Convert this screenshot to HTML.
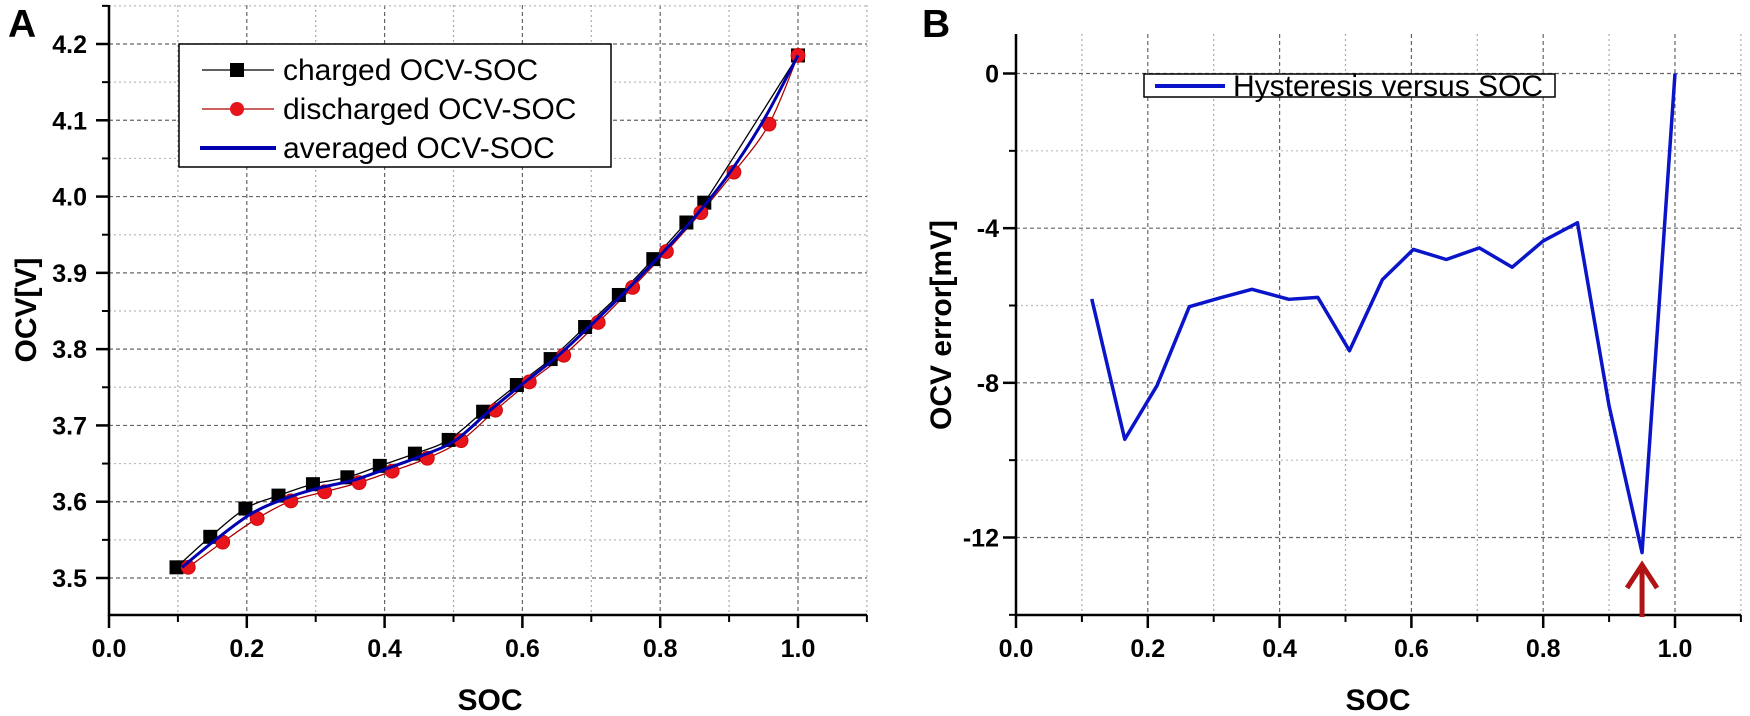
<!DOCTYPE html>
<html><head><meta charset="utf-8">
<style>
html,body{margin:0;padding:0;background:#fff;}
svg{display:block;font-family:"Liberation Sans",Arial,sans-serif;}
</style></head>
<body>
<svg id="fig" width="1750" height="716" viewBox="0 0 1750 716">
<g id="panelA"></g>
<g id="panelB"></g>
</svg>
<script>
// ---- Panel A data ----
const chargedSOC = [0.098,0.147,0.198,0.246,0.296,0.346,0.393,0.444,0.493,0.543,0.592,0.641,0.691,0.740,0.790,0.838,0.864,1.0];
const chargedOCV = [3.514,3.554,3.591,3.608,3.623,3.632,3.647,3.663,3.681,3.718,3.753,3.787,3.829,3.871,3.918,3.966,3.992,4.185];
const dischargedSOC = [0.115,0.165,0.215,0.264,0.313,0.363,0.411,0.462,0.511,0.561,0.610,0.660,0.710,0.760,0.809,0.859,0.907,0.958,1.0];
const dischargedOCV = [3.514,3.547,3.578,3.601,3.613,3.625,3.640,3.657,3.680,3.720,3.757,3.792,3.835,3.881,3.928,3.979,4.032,4.095,4.185];
const averagedSOC = [0.106,0.156,0.206,0.255,0.305,0.354,0.402,0.453,0.502,0.552,0.601,0.650,0.700,0.750,0.800,0.850,0.900,0.950,1.0];
const averagedOCV = [3.514,3.551,3.584,3.604,3.618,3.628,3.643,3.660,3.680,3.719,3.755,3.790,3.832,3.876,3.923,3.973,4.030,4.100,4.185];
const aXTicks = [0.0,0.2,0.4,0.6,0.8,1.0];
const aXTickLabels = ["0.0","0.2","0.4","0.6","0.8","1.0"];
const aYTicks = [3.5,3.6,3.7,3.8,3.9,4.0,4.1,4.2];
const aYTickLabels = ["3.5","3.6","3.7","3.8","3.9","4.0","4.1","4.2"];
// ---- Panel B data ----
const hystSOC = [0.115,0.165,0.214,0.263,0.310,0.358,0.414,0.458,0.506,0.556,0.603,0.653,0.703,0.753,0.800,0.852,0.900,0.950,1.0];
const hystErr = [-5.83,-9.46,-8.07,-6.03,-5.80,-5.58,-5.84,-5.79,-7.17,-5.33,-4.55,-4.81,-4.51,-5.01,-4.33,-3.86,-8.60,-12.39,0.0];
const bXTicks = [0.0,0.2,0.4,0.6,0.8,1.0];
const bXTickLabels = ["0.0","0.2","0.4","0.6","0.8","1.0"];
const bYTicks = [0,-4,-8,-12];
const bYTickLabels = ["0","-4","-8","-12"];

const NS="http://www.w3.org/2000/svg";
function mk(parent,tag,attrs,text){const e=document.createElementNS(NS,tag);for(const k in attrs)e.setAttribute(k,attrs[k]);if(text!==undefined)e.textContent=text;parent.appendChild(e);return e;}
function spline(pts){
  if(pts.length<2)return "";
  let d="M"+pts[0][0]+","+pts[0][1];
  for(let i=0;i<pts.length-1;i++){
    const p0=pts[Math.max(0,i-1)],p1=pts[i],p2=pts[i+1],p3=pts[Math.min(pts.length-1,i+2)];
    const c1=[p1[0]+(p2[0]-p0[0])/6,p1[1]+(p2[1]-p0[1])/6];
    const c2=[p2[0]-(p3[0]-p1[0])/6,p2[1]-(p3[1]-p1[1])/6];
    d+=" C"+c1[0]+","+c1[1]+" "+c2[0]+","+c2[1]+" "+p2[0]+","+p2[1];
  }
  return d;
}
const TF=25;

// ================= Panel A =================
(function(){
const g=document.getElementById('panelA');
const X0=109,X1=798,Y0=578,Y1=44;
const L=109,R=867,T=5,B=615;
const sx=v=>X0+(X1-X0)*v;
const sy=v=>Y0+(Y1-Y0)*(v-3.5)/0.7;
for(let v=0.1;v<1.1;v+=0.1){const x=sx(v);const major=Math.round(v*10)%2===0;
  const l=mk(g,'line',{x1:x,x2:x,y1:T,y2:B,stroke:major?'#666':'#aaa','stroke-width':1.2,'stroke-dasharray':major?'4,3':'2,3'});
  
  }
for(let v=3.5;v<4.26;v+=0.05){const y=sy(v);const major=Math.abs(v*10-Math.round(v*10))<0.01;
  const l=mk(g,'line',{x1:L,x2:R,y1:y,y2:y,stroke:major?'#666':'#bbb','stroke-width':1.2,'stroke-dasharray':major?'4,3':'2,3'});
  
  }
const ax=mk(g,'path',{d:`M${L},${T} L${L},${B} L${R},${B}`,fill:'none',stroke:'#000','stroke-width':2.5});


aXTicks.forEach((v,i)=>{const x=sx(v);
  mk(g,'line',{x1:x,x2:x,y1:B,y2:B+13,stroke:'#000','stroke-width':2.5});
  const t=mk(g,'text',{x:x,y:B+42,'text-anchor':'middle','font-size':TF,'font-weight':'bold'},aXTickLabels[i]);
  
  });
for(let v=0.1;v<1.1;v+=0.2){mk(g,'line',{x1:sx(v),x2:sx(v),y1:B,y2:B+7,stroke:'#000','stroke-width':2});}
aYTicks.forEach((v,i)=>{const y=sy(v);
  mk(g,'line',{x1:L-13,x2:L,y1:y,y2:y,stroke:'#000','stroke-width':2.5});
  const t=mk(g,'text',{x:L-22,y:y+9,'text-anchor':'end','font-size':TF,'font-weight':'bold'},aYTickLabels[i]);
  
  });
for(let v=3.55;v<4.26;v+=0.1){mk(g,'line',{x1:L-7,x2:L,y1:sy(v),y2:sy(v),stroke:'#000','stroke-width':2});}
const xt=mk(g,'text',{x:490,y:710,'text-anchor':'middle','font-size':30,'font-weight':'bold'},'SOC');


const yt=mk(g,'text',{x:0,y:0,transform:'translate(36,310) rotate(-90)','text-anchor':'middle','font-size':30,'font-weight':'bold'},'OCV[V]');


const lab=mk(g,'text',{x:8,y:37,'font-size':39,'font-weight':'bold'},'A');


const cp=chargedSOC.map((v,i)=>[sx(v),sy(chargedOCV[i])]);
const dp=dischargedSOC.map((v,i)=>[sx(v),sy(dischargedOCV[i])]);
const ap=averagedSOC.map((v,i)=>[sx(v),sy(averagedOCV[i])]);
const cl=mk(g,'path',{d:spline(cp),fill:'none',stroke:'#000','stroke-width':1.3});


const dl=mk(g,'path',{d:spline(dp),fill:'none',stroke:'#a00','stroke-width':1.3});


cp.forEach(p=>{const r=mk(g,'rect',{x:p[0]-7,y:p[1]-7,width:14,height:14,fill:'#000'});
  
  });
dp.forEach(p=>{const c=mk(g,'circle',{cx:p[0],cy:p[1],r:7,fill:'#e8141c',stroke:'#c00','stroke-width':0.8});
  
  });
const al=mk(g,'path',{d:spline(ap),fill:'none',stroke:'#0000b0','stroke-width':3});


const lg=mk(g,'g',{});


mk(lg,'rect',{x:179,y:44,width:432,height:123,fill:'#fff',stroke:'#000','stroke-width':1.5});
mk(lg,'line',{x1:202,x2:274,y1:70,y2:70,stroke:'#000','stroke-width':1.3});
mk(lg,'rect',{x:230,y:63,width:14,height:14,fill:'#000'});
mk(lg,'text',{x:283,y:80,'font-size':30},'charged OCV-SOC');
mk(lg,'line',{x1:202,x2:274,y1:109,y2:109,stroke:'#a00','stroke-width':1.3});
mk(lg,'circle',{cx:237,cy:109,r:7,fill:'#e8141c'});
mk(lg,'text',{x:283,y:119,'font-size':30},'discharged OCV-SOC');
mk(lg,'line',{x1:200,x2:276,y1:148,y2:148,stroke:'#0000b0','stroke-width':4});
mk(lg,'text',{x:283,y:158,'font-size':30},'averaged OCV-SOC');
})();

// ================= Panel B =================
(function(){
const g=document.getElementById('panelB');
const X0=1016,X1=1675,Y0=73.5,Yn12=537.5;
const L=1016,R=1741,T=34,B=615;
const sx=v=>X0+(X1-X0)*v;
const sy=v=>Y0+(Yn12-Y0)*(v/-12);
for(let v=0.1;v<1.11;v+=0.1){const x=sx(v);const major=Math.round(v*10)%2===0;
  const l=mk(g,'line',{x1:x,x2:x,y1:T,y2:B,stroke:major?'#666':'#aaa','stroke-width':1.2,'stroke-dasharray':major?'4,3':'2,3'});
  
  }
for(let v=0;v>=-14;v-=2){const y=sy(v);const major=v%4===0;
  const l=mk(g,'line',{x1:L,x2:R,y1:y,y2:y,stroke:major?'#666':'#bbb','stroke-width':1.2,'stroke-dasharray':major?'4,3':'2,3'});
  
  }
const ax=mk(g,'path',{d:`M${L},${T} L${L},${B} L${R},${B}`,fill:'none',stroke:'#000','stroke-width':2.5});


bXTicks.forEach((v,i)=>{const x=sx(v);
  mk(g,'line',{x1:x,x2:x,y1:B,y2:B+13,stroke:'#000','stroke-width':2.5});
  const t=mk(g,'text',{x:x,y:B+42,'text-anchor':'middle','font-size':TF,'font-weight':'bold'},bXTickLabels[i]);
  
  });
for(let v=0.1;v<1.11;v+=0.2){mk(g,'line',{x1:sx(v),x2:sx(v),y1:B,y2:B+7,stroke:'#000','stroke-width':2});}
bYTicks.forEach((v,i)=>{const y=sy(v);
  mk(g,'line',{x1:L-13,x2:L,y1:y,y2:y,stroke:'#000','stroke-width':2.5});
  const t=mk(g,'text',{x:L-17,y:y+9,'text-anchor':'end','font-size':TF,'font-weight':'bold'},bYTickLabels[i]);
  
  });
for(let v=-2;v>=-14;v-=4){mk(g,'line',{x1:L-7,x2:L,y1:sy(v),y2:sy(v),stroke:'#000','stroke-width':2});}
const xt=mk(g,'text',{x:1378,y:710,'text-anchor':'middle','font-size':30,'font-weight':'bold'},'SOC');


const yt=mk(g,'text',{x:0,y:0,transform:'translate(951,325) rotate(-90)','text-anchor':'middle','font-size':30,'font-weight':'bold'},'OCV error[mV]');


const lab=mk(g,'text',{x:922,y:37,'font-size':39,'font-weight':'bold'},'B');


const pts=hystSOC.map((v,i)=>sx(v)+","+sy(hystErr[i])).join(" ");
const hl=mk(g,'polyline',{points:pts,fill:'none',stroke:'#0a14c8','stroke-width':3.5,'stroke-linejoin':'round'});


const ax95=sx(hystSOC[17]);
const ar=mk(g,'g',{});


mk(ar,'line',{x1:ax95,x2:ax95,y1:B+2,y2:568,stroke:'#b01414','stroke-width':5});
mk(ar,'polyline',{points:`${ax95-15},${588} ${ax95},${565} ${ax95+15},${588}`,fill:'none',stroke:'#b01414','stroke-width':5});
const lg=mk(g,'g',{});


mk(lg,'rect',{x:1144,y:74,width:411,height:23,fill:'#fff',stroke:'#000','stroke-width':1.5});
mk(lg,'line',{x1:1155,x2:1225,y1:86,y2:86,stroke:'#0a14c8','stroke-width':4});
mk(lg,'text',{x:1233,y:96,'font-size':30},'Hysteresis versus SOC');
})();
</script>
</body></html>
